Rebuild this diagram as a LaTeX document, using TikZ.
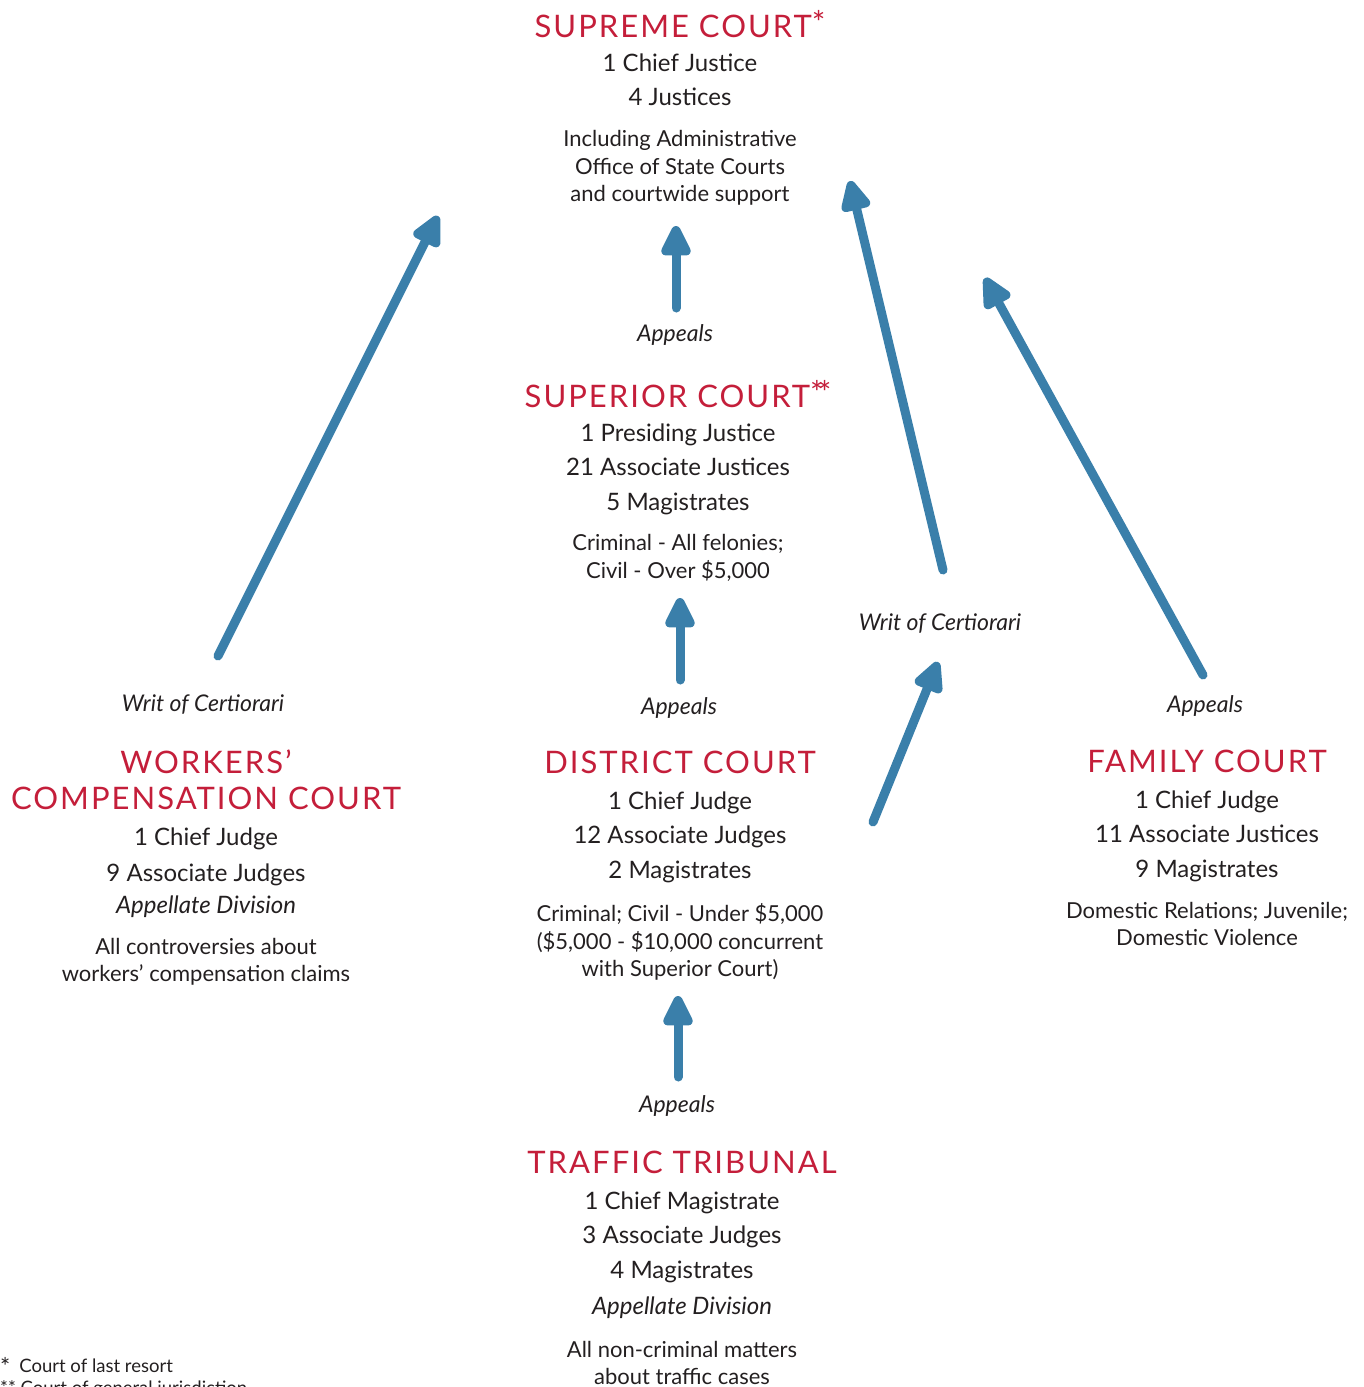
\documentclass[tikz,border=0pt]{standalone}
\usepackage{fontspec}
\setmainfont{Lato}
\usetikzlibrary{arrows.meta}
\definecolor{courtred}{HTML}{C41E3A}
\definecolor{arrowblue}{HTML}{3A7FAA}
\definecolor{ink}{HTML}{231F20}
\newcommand{\myast}{{\fontsize{32}{32}\selectfont\raisebox{3pt}{*}}}
\begin{document}
\begin{tikzpicture}[x=1pt,y=-1pt,
  title/.style={text=courtred,font=\fontsize{31}{36}\selectfont\addfontfeatures{LetterSpace=6.5},inner sep=0pt,align=center},
  staff/.style={text=ink,font=\fontsize{24}{34.5}\selectfont,inner sep=0pt,align=center},
  desc/.style={text=ink,font=\fontsize{22}{27.5}\selectfont,inner sep=0pt,align=center},
  lbl/.style={text=ink,font=\fontsize{23}{26}\selectfont\itshape,inner sep=0pt},
  adiv/.style={text=ink,font=\fontsize{24}{28}\selectfont\itshape,inner sep=0pt},
  note/.style={text=ink,font=\fontsize{18.5}{22}\selectfont,inner sep=0pt,anchor=west},
  flow/.style={draw=arrowblue,line width=9pt,line cap=round,
    -{Triangle[length=36pt,width=32pt,round]}}]
\useasboundingbox (0,0) rectangle (1364,1387);
% Supreme Court
\node[title] (supT) at (680,24) {SUPREME COURT\myast};
\node[staff] (supS) at (680,80) {1 Chief Justice\\4 Justices};
\node[desc] (supD) at (680,168) {Including Administrative\\Office of State Courts\\and courtwide support};
% Superior Court
\node[title] (spT) at (678,394) {SUPERIOR COURT\myast\kern-6pt\myast};
\node[staff] (spS) at (678,469) {1 Presiding Justice\\21 Associate Justices\\5 Magistrates};
\node[desc] (spD) at (678,558) {Criminal - All felonies;\\Civil - Over \$5,000};
% District Court
\node[title] (dT) at (680,762) {DISTRICT COURT};
\node[staff] (dS) at (680,837) {1 Chief Judge\\12 Associate Judges\\2 Magistrates};
\node[desc] (dD) at (680,942) {Criminal; Civil - Under \$5,000\\(\$5,000 - \$10,000 concurrent\\with Superior Court)};
% Traffic Tribunal
\node[title] (tT) at (682,1162) {TRAFFIC TRIBUNAL};
\node[staff] (tS) at (682,1237) {1 Chief Magistrate\\3 Associate Judges\\4 Magistrates};
\node[adiv] (tA) at (682,1308) {Appellate Division};
\node[desc] (tD) at (682,1363) {All non-criminal matters\\about traffic cases};
% Workers' Compensation Court
\node[title] (wT) at (206,780) {WORKERS'\\COMPENSATION COURT};
\node[staff,font=\fontsize{24}{36}\selectfont] (wS) at (206,857) {1 Chief Judge\\9 Associate Judges};
\node[adiv] (wA) at (206,907) {Appellate Division};
\node[desc] (wD) at (206,962) {All controversies about\\workers' compensation claims};
% Family Court
\node[title] (fT) at (1207,761) {FAMILY COURT};
\node[staff] (fS) at (1207,836) {1 Chief Judge\\11 Associate Justices\\9 Magistrates};
\node[desc] (fD) at (1207,924) {Domestic Relations; Juvenile;\\Domestic Violence};
% Labels
\node[lbl] (l1) at (675,335) {Appeals};
\node[lbl] (l2) at (679,708) {Appeals};
\node[lbl] (l3) at (677,1106) {Appeals};
\node[lbl] (l4) at (1205,706) {Appeals};
\node[lbl] (l5) at (203,705) {Writ of Certiorari};
\node[lbl] (l6) at (940,624) {Writ of Certiorari};
% Footnotes
\node[note] (n1) at (0,1366) {{\fontsize{24}{22}\selectfont\raisebox{-3pt}{*}}\hspace{9pt}Court of last resort};
\node[note] (n2) at (0,1389) {** Court of general jurisdiction};
% Arrow coordinates
\coordinate (a1s) at (676,308); \coordinate (a1e) at (676,226);
\coordinate (a2s) at (680,680); \coordinate (a2e) at (680,598);
\coordinate (a3s) at (678,1077); \coordinate (a3e) at (678,996);
\coordinate (a4s) at (218,656); \coordinate (a4e) at (438,216);
\coordinate (a5s) at (943,570); \coordinate (a5e) at (850,181);
\coordinate (a6s) at (873,822); \coordinate (a6e) at (938,662);
\coordinate (a7s) at (1203,675); \coordinate (a7e) at (985,278);
\draw[flow] (a1s) -- (a1e);
\draw[flow] (a2s) -- (a2e);
\draw[flow] (a3s) -- (a3e);
\draw[flow] (a4s) -- (a4e);
\draw[flow] (a5s) -- (a5e);
\draw[flow] (a6s) -- (a6e);
\draw[flow] (a7s) -- (a7e);
\end{tikzpicture}
\end{document}
